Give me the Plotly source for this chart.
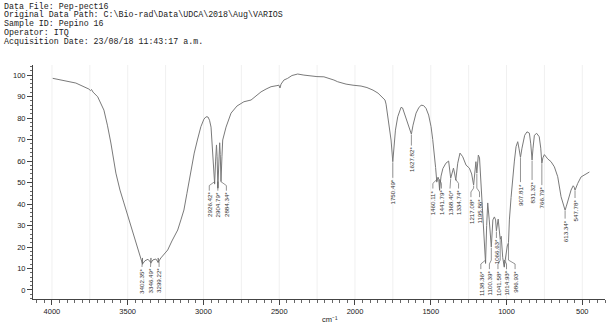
import numpy as np
import plotly.graph_objects as go

# ---------------- data ----------------
header_lines = [
    "Data File: Pep-pect16",
    "Original Data Path: C:\\Bio-rad\\Data\\UDCA\\2018\\Aug\\VARIOS",
    "Sample ID: Pepino 16",
    "Operator: ITQ",
    "Acquisition Date: 23/08/18 11:43:17 a.m.",
]

wavenumber = [
    3995, 3929, 3842, 3756, 3746, 3739, 3729, 3698, 3677, 3657, 3634, 3611, 3578, 3551, 3525,
    3492, 3459, 3432, 3413, 3402.35, 3386, 3366, 3346.49, 3333, 3314, 3299.22, 3281, 3261, 3236,
    3208, 3170, 3149, 3129, 3109, 3083, 3061, 3040, 3017, 2997, 2983, 2970, 2960, 2950, 2942,
    2935, 2926.42, 2920, 2914, 2910, 2904.79, 2898, 2893, 2889, 2884.34, 2878, 2873, 2851, 2818,
    2779, 2733, 2686, 2653, 2620, 2587, 2554, 2515, 2502, 2495, 2488, 2469, 2444, 2416, 2378,
    2337, 2290, 2251, 2205, 2172, 2139, 2114, 2059, 2013, 1960, 1921, 1881, 1848, 1822, 1802,
    1795, 1786, 1774, 1762, 1750.49, 1743, 1733, 1718, 1706, 1696, 1686, 1675, 1657, 1644,
    1627.82, 1617, 1597, 1580, 1564, 1547, 1531, 1514, 1498, 1487, 1476, 1468, 1460.11, 1452,
    1447, 1441.79, 1432, 1420, 1400, 1382, 1368.40, 1360, 1350, 1342, 1334.74, 1322, 1307, 1289,
    1267, 1245, 1230, 1217.08, 1208, 1202, 1195.86, 1186, 1178, 1168, 1156, 1146, 1138.36, 1131,
    1124, 1114, 1100.39, 1090, 1080, 1072, 1066.63, 1055, 1047, 1041.58, 1035, 1025, 1014.93,
    1005, 995, 986.93, 981, 970, 959, 948, 937, 926, 918, 907.81, 898, 890, 880, 865, 849, 840,
    831.32, 825, 816, 801, 784, 774, 766.79, 760, 750, 728, 706, 684, 662, 640, 629, 620, 613.34,
    605, 596, 585, 574, 560, 553, 547.78, 540, 530, 508, 475, 453,
]

transmittance = [
    98.5, 97.7, 96.3, 93.5, 92.8, 93.3, 92.1, 89.9, 87.0, 83.7, 76.7, 68.4, 54.4, 46.5, 40.5,
    32.6, 24.7, 19.1, 14.9, 12.1, 13.6, 14.3, 12.7, 14.0, 14.4, 12.9, 14.9, 16.7, 18.6,
    22.8, 27.9, 32.6, 37.2, 45.0, 56.0, 63.7, 69.8, 76.0, 79.5, 80.6, 80.5, 79.0, 75.8, 68.0,
    58.0, 49.5, 60.0, 67.5, 62.0, 47.5, 60.0, 68.5, 63.0, 50.5, 62.0, 69.8, 75.8, 82.3,
    85.6, 87.6, 88.4, 90.2, 92.2, 93.5, 94.6, 95.1, 95.3, 94.0, 95.8, 97.7, 98.5, 99.8, 100.5,
    100.0, 99.5, 99.3, 99.2, 98.6, 97.7, 96.9, 95.8, 95.3, 94.9, 94.2, 93.0, 91.6, 89.8, 88.4,
    86.5, 81.4, 76.0, 69.8, 59.7, 66.0, 74.4, 80.6, 83.7, 85.0, 84.7, 82.3, 79.0, 75.8,
    72.5, 76.7, 82.3, 84.7, 86.0, 85.8, 84.5, 81.4, 76.0, 70.0, 64.0, 57.0, 50.4, 52.5,
    51.5, 46.5, 53.0, 56.5, 59.0, 60.0, 52.0, 54.5, 56.7, 54.0, 51.2, 59.0, 63.7, 62.0,
    58.1, 56.7, 54.0, 48.8, 57.3, 59.7, 54.4, 62.8, 61.4, 48.0, 32.6, 18.0, 12.5, 30.0,
    40.5, 32.6, 20.0, 32.6, 34.0, 32.6, 27.5, 33.0, 28.0, 23.5, 25.0, 15.0, 10.8,
    16.0, 20.5, 22.0, 32.6, 43.0, 52.7, 60.0, 66.7, 69.0, 66.0, 61.7, 66.0, 69.5, 72.0, 73.6, 73.0, 68.0,
    60.5, 66.0, 72.0, 72.9, 71.3, 66.0, 58.9, 61.5, 63.0, 61.0, 59.7, 57.3, 52.7, 43.4, 40.4, 38.0, 37.1,
    39.0, 41.3, 44.5, 46.5, 48.5, 47.8, 46.4, 48.0, 49.6, 52.6, 54.1, 54.9,
]

peak_labels = [
    "3402.35*", "3346.49*", "3299.22*", "2926.42*", "2904.79*", "2884.34*", "1750.49*",
    "1627.82*", "1460.11*", "1441.79*", "1368.40*", "1334.74*", "1217.08*", "1195.86*",
    "1138.36*", "1100.39*", "1066.63*", "1041.58*", "1014.93*", "986.93*", "907.81*",
    "831.32*", "766.79*", "613.34*", "547.78*",
]
peak_wn = [
    3402.35, 3346.49, 3299.22, 2926.42, 2904.79, 2884.34, 1750.49, 1627.82, 1460.11, 1441.79,
    1368.40, 1334.74, 1217.08, 1195.86, 1138.36, 1100.39, 1066.63, 1041.58, 1014.93, 986.93,
    907.81, 831.32, 766.79, 613.34, 547.78,
]
# which label cluster each peak belongs to
peak_group = ["oh", "oh", "oh", "ch", "ch", "ch", "c1", "c2", "f1", "f1", "f1", "f1", "f2", "f2",
              "f3", "f3", "s1", "f3", "f3", "f3", "s2", "s3", "s4", "s5", "s6"]

# ---------------- label layout (style) ----------------
label_top = {"oh": 10.5, "ch": 46, "c1": 52, "c2": 67, "f1": 47, "f2": 43, "f3": 9.5,
             "s1": 24, "s2": 50, "s3": 51, "s4": 48.6, "s5": 33, "s6": 42.6}
label_spacing = 56.5  # cm-1 between neighbouring labels in a cluster

W, H = 612, 327
ML, MR, MT, MB = 33, 7, 65, 28
XR = [4125, 350]
YR = [-4.2, 104.7]

wn_arr = np.array(wavenumber)
t_arr = np.array(transmittance)
order = np.argsort(wn_arr)

fig = go.Figure()

# faint vertical grid every 250 cm-1
shapes = []
for g in range(500, 4001, 250):
    shapes.append(dict(type="line", xref="x", yref="paper", x0=g, x1=g, y0=0, y1=1,
                       line=dict(color="#f0f0f0", width=1), layer="below"))

fig.add_trace(go.Scatter(x=wavenumber, y=transmittance, mode="lines",
                         line=dict(color="#7a7a7a", width=1), hoverinfo="skip"))

# label positions
groups = {}
for i, g in enumerate(peak_group):
    groups.setdefault(g, []).append(i)

lx, ly = [], []
annotations = []
for g, idx in groups.items():
    n = len(idx)
    center = np.mean([peak_wn[i] for i in idx])
    top = label_top[g]
    for k, i in enumerate(idx):
        pv = peak_wn[i]
        pt = float(np.interp(pv, wn_arr[order], t_arr[order]))
        xl = center + ((n - 1) / 2 - k) * label_spacing if n > 1 else pv
        if n > 1:
            bend = top + 3.2
            lx += [pv, pv, xl, xl, None]
            ly += [pt - 0.3, bend + 1.2, bend - 0.6, top + 0.2, None]
        else:
            lx += [pv, pv, None]
            ly += [pt - 0.3, top + 0.2, None]
        annotations.append(dict(x=xl, y=top, xref="x", yref="y", text=peak_labels[i],
                                showarrow=False, textangle=-90, xanchor="center",
                                yanchor="top", borderpad=0,
                                font=dict(family="Liberation Sans", size=6.2, color="#333333")))

fig.add_trace(go.Scatter(x=lx, y=ly, mode="lines", line=dict(color="#666666", width=0.7),
                         hoverinfo="skip"))

# header text
pw = W - ML - MR
ph = H - MT - MB
for j, line in enumerate(header_lines):
    ypx = 6.0 + 8.9 * j
    annotations.append(dict(x=(3 - ML) / pw, y=1 + (MT - ypx) / ph, xref="paper", yref="paper",
                            text=line, showarrow=False, xanchor="left", yanchor="middle",
                            borderpad=0,
                            font=dict(family="Liberation Mono", size=8.3, color="#222222")))

# axis title
annotations.append(dict(x=(330 - ML) / pw, y=-(319 - (H - MB)) / ph, xref="paper", yref="paper",
                        text="cm\u207b\u00b9", showarrow=False, xanchor="center", yanchor="middle",
                        borderpad=0, font=dict(family="Liberation Sans", size=7.5, color="#222222")))

fig.update_layout(
    width=W, height=H,
    margin=dict(l=ML, r=MR, t=MT, b=MB),
    paper_bgcolor="white", plot_bgcolor="white",
    showlegend=False,
    shapes=shapes,
    annotations=annotations,
    xaxis=dict(range=XR, tickvals=list(range(500, 4001, 500)), showgrid=False, zeroline=False,
               showline=True, linecolor="#444444", linewidth=1, ticks="outside", ticklen=5,
               tickcolor="#444444", tickfont=dict(family="Liberation Sans", size=7.5, color="#222222"),
               minor=dict(dtick=50, ticks="outside", ticklen=2.5, tickcolor="#666666")),
    yaxis=dict(range=YR, tickvals=list(range(0, 101, 10)), showgrid=False, zeroline=False,
               showline=True, linecolor="#444444", linewidth=1, ticks="outside", ticklen=5,
               tickcolor="#444444", tickfont=dict(family="Liberation Sans", size=7.5, color="#222222"),
               minor=dict(dtick=2, ticks="outside", ticklen=2.5, tickcolor="#666666")),
)

fig.write_html("out.html", config={"displayModeBar": False},
               post_script="document.body.style.margin='0';")
